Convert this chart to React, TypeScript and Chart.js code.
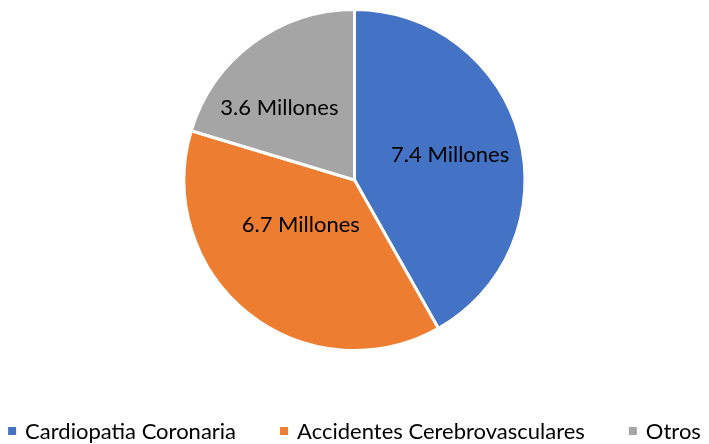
import React, { useEffect, useRef } from "react";
import { Chart, registerables } from "chart.js";

Chart.register(...registerables);

const categories = ["Cardiopatia Coronaria", "Accidentes Cerebrovasculares", "Otros"];
const values = [7.4, 6.7, 3.6];
const valueLabels = ["7.4 Millones", "6.7 Millones", "3.6 Millones"];
const colors = ["#4472C4", "#ED7D31", "#A5A5A5"];
const labelRadiusFrac = [0.58, 0.41, 0.61];
const labelAngleShiftDeg = [0, 11.6, -9.6];

const FONT = "Lato, 'Open Sans', sans-serif";

const sliceLabels = {
  id: "sliceLabels",
  afterDatasetsDraw(chart: any) {
    const ctx = chart.ctx;
    const meta = chart.getDatasetMeta(0);
    ctx.save();
    ctx.font = `22px ${FONT}`;
    ctx.fillStyle = "#000";
    ctx.textAlign = "center";
    ctx.textBaseline = "middle";
    meta.data.forEach((arc: any, i: number) => {
      const p = arc.getProps(["x", "y", "startAngle", "endAngle", "outerRadius"], true);
      const mid = (p.startAngle + p.endAngle) / 2 + (labelAngleShiftDeg[i] * Math.PI) / 180;
      const r = p.outerRadius * labelRadiusFrac[i];
      ctx.fillText(valueLabels[i], p.x + Math.cos(mid) * r, p.y + Math.sin(mid) * r);
    });
    ctx.restore();
  },
};

const customLegend = {
  id: "customLegend",
  afterDraw(chart: any) {
    const ctx = chart.ctx;
    ctx.save();
    ctx.font = `22px ${FONT}`;
    ctx.textBaseline = "middle";
    ctx.textAlign = "left";
    const box = 8;
    const boxGap = 9;
    const itemGap = 44;
    const widths = categories.map((c) => box + boxGap + ctx.measureText(c).width);
    const total = widths.reduce((a, b) => a + b, 0) + itemGap * (categories.length - 1);
    let x = (chart.width - total) / 2;
    const y = 431;
    categories.forEach((c, i) => {
      ctx.fillStyle = colors[i];
      ctx.fillRect(x, y - box / 2, box, box);
      ctx.fillStyle = "#000";
      ctx.fillText(c, x + box + boxGap, y + 1);
      x += widths[i] + itemGap;
    });
    ctx.restore();
  },
};

export default function App() {
  const ref = useRef<HTMLCanvasElement | null>(null);
  useEffect(() => {
    if (!ref.current) return;
    const chart = new Chart(ref.current, {
      type: "pie",
      data: {
        labels: categories,
        datasets: [
          {
            data: values,
            backgroundColor: colors,
            borderColor: "#ffffff",
            borderWidth: 3,
          },
        ],
      },
      options: {
        animation: false,
        responsive: false,
        maintainAspectRatio: false,
        layout: { padding: { top: 8, bottom: 92, left: 0, right: 0 } },
        plugins: {
          legend: { display: false },
          tooltip: { enabled: false },
        },
      },
      plugins: [sliceLabels, customLegend],
    });
    return () => chart.destroy();
  }, []);
  return (
    <div style={{ position: "absolute", left: 0, top: 0, width: 709, height: 444, background: "#fff" }}>
      <canvas ref={ref} width={709} height={444} style={{ width: 709, height: 444 }} />
    </div>
  );
}
